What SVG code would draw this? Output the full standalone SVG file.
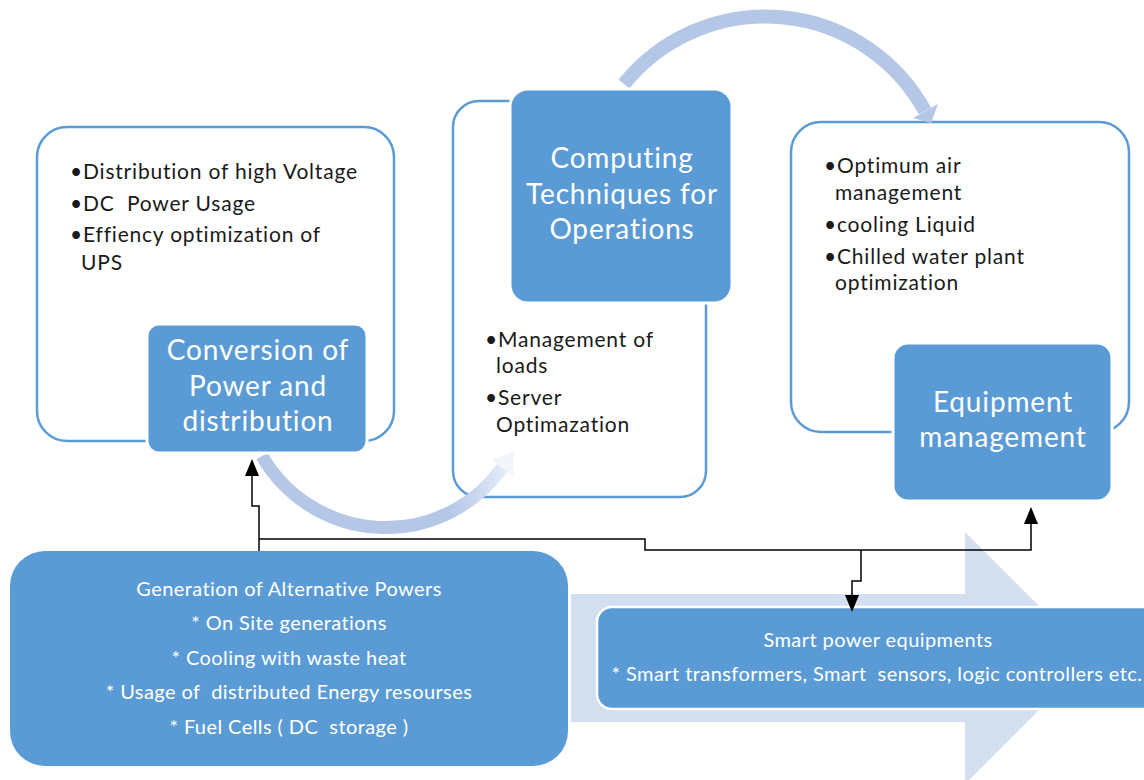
<svg xmlns="http://www.w3.org/2000/svg" width="1144" height="780" viewBox="0 0 1144 780">
<defs>
<style>
.outer{fill:#ffffff;stroke:#5b9bd5;stroke-width:2.5}
.blue{fill:#5b9bd5;stroke:#ffffff;stroke-width:3}
.title{font-family:Lato,"Liberation Sans",sans-serif;font-size:28px;letter-spacing:0.85px;fill:#ffffff;text-anchor:middle}
.bul{font-family:Lato,"Liberation Sans",sans-serif;font-size:21px;letter-spacing:0.8px;fill:#1a1a1a;white-space:pre}
.wt{font-family:Lato,"Liberation Sans",sans-serif;font-size:20px;letter-spacing:0.42px;fill:#ffffff;text-anchor:middle;white-space:pre}
.conn{fill:none;stroke:#000000;stroke-width:1.5}
</style>
<marker id="ah" viewBox="0 0 17 14" markerUnits="userSpaceOnUse" markerWidth="17" markerHeight="14" refX="15" refY="7" orient="auto">
<path d="M0,0 L17,7 L0,14 z" fill="#000000"/>
</marker>
<linearGradient id="fade" gradientUnits="userSpaceOnUse" x1="450" y1="0" x2="522" y2="0">
<stop offset="0" stop-color="#b4c7e7"/>
<stop offset="1" stop-color="#f2f6fb"/>
</linearGradient>
</defs>
<rect width="1144" height="780" fill="#ffffff"/>

<g id="big-arrow">
<path d="M571 594 H965 V532 L1091 658 L965 784 V722 H571 Z" fill="#d3deef"/>
</g>

<g id="conversion-outer"><rect class="outer" x="37" y="127" width="357" height="314" rx="30"/></g>
<g id="computing-outer"><rect class="outer" x="453" y="101" width="253" height="396" rx="26"/></g>
<g id="equipment-outer"><rect class="outer" x="791" y="122" width="338" height="310" rx="30"/></g>

<g id="cycle-arrows">
<path d="M624 84 A182 182 0 0 1 925 111" fill="none" stroke="#b4c7e7" stroke-width="14"/>
<polygon points="938,104 913,118 931,123" fill="#b4c7e7"/>
<path d="M262 456 A143 143 0 0 0 502 468" fill="none" stroke="url(#fade)" stroke-width="13"/>
<polygon points="513,476 491,460 514,451" fill="#f2f6fb"/>
</g>

<g id="conversion">
<rect class="blue" x="147" y="324" width="220" height="129" rx="12"/>
<text class="title" x="258" y="360">Conversion of</text>
<text class="title" x="258" y="396">Power and</text>
<text class="title" x="258" y="431">distribution</text>
<text class="bul" x="70" y="179">•Distribution of high Voltage</text>
<text class="bul" x="70" y="211">•DC  Power Usage</text>
<text class="bul" x="70" y="242">•Effiency optimization of</text>
<text class="bul" x="81" y="270">UPS</text>
</g>

<g id="computing">
<rect class="blue" x="510" y="89" width="222" height="214" rx="18"/>
<text class="title" x="622" y="168">Computing</text>
<text class="title" x="622" y="204">Techniques for</text>
<text class="title" x="622" y="239">Operations</text>
<text class="bul" x="485" y="347">•Management of</text>
<text class="bul" x="496" y="373">loads</text>
<text class="bul" x="485" y="405">•Server</text>
<text class="bul" x="496" y="432">Optimazation</text>
</g>

<g id="equipment">
<rect class="blue" x="893" y="343" width="219" height="158" rx="15"/>
<text class="title" x="1003" y="412">Equipment</text>
<text class="title" x="1003" y="447">management</text>
<text class="bul" x="824" y="173">•Optimum air</text>
<text class="bul" x="835" y="200">management</text>
<text class="bul" x="824" y="232">•cooling Liquid</text>
<text class="bul" x="824" y="264">•Chilled water plant</text>
<text class="bul" x="835" y="290">optimization</text>
</g>

<g id="generation">
<rect x="10" y="551" width="558" height="215" rx="35" fill="#5b9bd5"/>
<text class="wt" x="289" y="596">Generation of Alternative Powers</text>
<text class="wt" x="289" y="630">* On Site generations</text>
<text class="wt" x="289" y="665">* Cooling with waste heat</text>
<text class="wt" x="289" y="699">* Usage of  distributed Energy resourses</text>
<text class="wt" x="289" y="734">* Fuel Cells ( DC  storage )</text>
</g>

<g id="smart">
<rect x="597" y="607" width="580" height="102" rx="15" fill="#5b9bd5" stroke="#ffffff" stroke-width="2.5"/>
<text class="wt" x="878" y="647">Smart power equipments</text>
<text class="wt" x="877" y="681">* Smart transformers, Smart  sensors, logic controllers etc.</text>
</g>

<g id="connectors">
<path class="conn" d="M259 551 V506 H252 V461" marker-end="url(#ah)"/>
<path class="conn" d="M259 539 H645 V550 H1031 V509" marker-end="url(#ah)"/>
<path class="conn" d="M861 550 V581 H852 V610" marker-end="url(#ah)"/>
</g>
</svg>
